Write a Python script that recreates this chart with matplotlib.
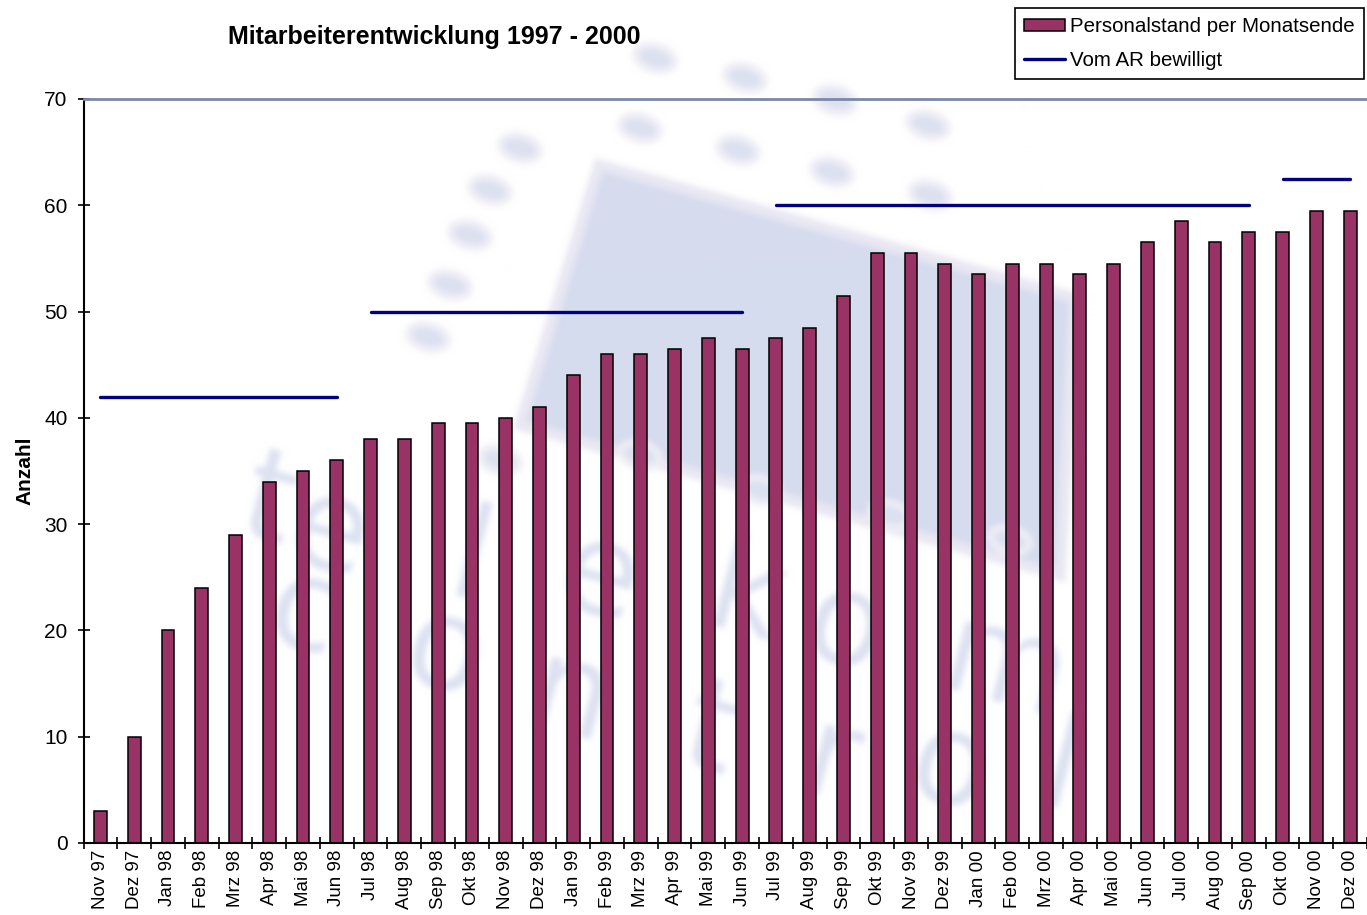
import numpy as np
import matplotlib
matplotlib.use('Agg')
import matplotlib.pyplot as plt
from matplotlib.patches import Polygon, Ellipse

plt.rcParams['font.family'] = ['Liberation Sans', 'DejaVu Sans']

# ---------------- data ----------------
monate = ['Nov 97', 'Dez 97',
          'Jan 98', 'Feb 98', 'Mrz 98', 'Apr 98', 'Mai 98', 'Jun 98',
          'Jul 98', 'Aug 98', 'Sep 98', 'Okt 98', 'Nov 98', 'Dez 98',
          'Jan 99', 'Feb 99', 'Mrz 99', 'Apr 99', 'Mai 99', 'Jun 99',
          'Jul 99', 'Aug 99', 'Sep 99', 'Okt 99', 'Nov 99', 'Dez 99',
          'Jan 00', 'Feb 00', 'Mrz 00', 'Apr 00', 'Mai 00', 'Jun 00',
          'Jul 00', 'Aug 00', 'Sep 00', 'Okt 00', 'Nov 00', 'Dez 00']

personalstand = [3, 10,
                 20, 24, 29, 34, 35, 36,
                 38, 38, 39.5, 39.5, 40, 41,
                 44, 46, 46, 46.5, 47.5, 46.5,
                 47.5, 48.5, 51.5, 55.5, 55.5, 54.5,
                 53.5, 54.5, 54.5, 53.5, 54.5, 56.5,
                 58.5, 56.5, 57.5, 57.5, 59.5, 59.5]

# approved headcount (Aufsichtsrat), one value per period
bewilligt_von = ['Nov 97', 'Jul 98', 'Jul 99', 'Okt 00']
bewilligt_bis = ['Jun 98', 'Jun 99', 'Sep 00', 'Dez 00']
bewilligt_anzahl = [42, 50, 60, 62.5]

BAR_COLOR = '#993366'
LINE_COLOR = '#000080'
W, H = 1367, 915


def box_blur(img, r):
    # separable box filter, run along rows then columns
    k = 2 * r + 1
    for axis in (0, 1):
        padw = [(0, 0)] * img.ndim
        padw[axis] = (r + 1, r)
        c = np.cumsum(np.pad(img, padw, mode='edge'), axis=axis)
        n = img.shape[axis]
        img = (np.take(c, np.arange(k, k + n), axis=axis)
               - np.take(c, np.arange(0, n), axis=axis)) / k
    return img


# ---------------- watermark (background logo), rendered then softened ----------------
wfig = plt.figure(figsize=(W / 100, H / 100), dpi=100)
wax = wfig.add_axes([0, 0, 1, 1])
wax.set_xlim(0, W)
wax.set_ylim(H, 0)
wax.axis('off')

wax.add_patch(Polygon([(599, 165), (1075, 298), (1060, 575), (520, 425)],
                      closed=True, facecolor='#d6dcee', edgecolor='#e9e8f3', lw=8))
pads = [(520, 148), (490, 190), (470, 235), (450, 285), (428, 337),
        (655, 58), (745, 78), (835, 100), (928, 125),
        (640, 128), (738, 150), (832, 172), (930, 195),
        (500, 460), (640, 455), (760, 490), (890, 515), (1010, 540)]
for px, py in pads:
    wax.add_patch(Ellipse((px, py), 40, 24, angle=15, facecolor='#dce1f0',
                          edgecolor='#efeef6', lw=5))

row1 = [('t', 268, 505), ('e', 330, 535), ('l', 470, 565), ('e', 600, 580),
        ('k', 745, 600), ('o', 845, 630), ('m', 1005, 670)]
row2 = [('c', 305, 615), ('o', 445, 655), ('n', 570, 700), ('t', 710, 735),
        ('r', 830, 765), ('o', 950, 770), ('l', 1060, 775)]
for ch, px, py in row1 + row2:
    wax.text(px, py, ch, fontsize=92, color='#dde2f1', ha='center', va='center',
             rotation=-15, family='DejaVu Sans')

wfig.canvas.draw()
wm_img = np.asarray(wfig.canvas.buffer_rgba())[..., :3].astype(float) / 255
plt.close(wfig)
wm_img = np.clip(box_blur(box_blur(wm_img, 3), 3), 0, 1)

fig = plt.figure(figsize=(W / 100, H / 100), dpi=100)
bg = fig.add_axes([0, 0, 1, 1], zorder=0)
bg.imshow(wm_img, extent=(0, W, H, 0), aspect='auto', interpolation='nearest')
bg.set_xlim(0, W)
bg.set_ylim(H, 0)
bg.axis('off')

# ---------------- main chart ----------------
ax = fig.add_axes([83.5 / W, 1 - 843 / H, (W - 83.5) / W, (843 - 99) / H], zorder=1)
ax.set_facecolor('none')

x = np.arange(len(monate))
bars = ax.bar(x, personalstand, width=0.38, color=BAR_COLOR, edgecolor='black',
              linewidth=1.1, zorder=2)

ar_line = None
for von, bis, anz in zip(bewilligt_von, bewilligt_bis, bewilligt_anzahl):
    i0, i1 = monate.index(von), monate.index(bis)
    ar_line, = ax.plot([i0, i1], [anz, anz], color=LINE_COLOR, lw=2.4,
                       solid_capstyle='round', zorder=3)

ax.set_xlim(-0.5, len(monate) - 0.5)
ax.set_ylim(0, 70)
ax.set_yticks(range(0, 71, 10))

ax.set_xticks(x)
ax.set_xticklabels(monate, rotation=90, fontsize=13.5)
ax.set_xticks(np.arange(-0.5, len(monate), 1), minor=True)
ax.tick_params(axis='x', which='major', length=0, pad=5)
ax.tick_params(axis='x', which='minor', direction='inout', length=9, width=1.2)
ax.tick_params(axis='y', direction='inout', length=9, width=1.2, labelsize=15, pad=7)

for s in ('left', 'bottom'):
    ax.spines[s].set_linewidth(1.5)
ax.spines['right'].set_visible(False)
ax.spines['top'].set_color('#7b88a6')
ax.spines['top'].set_linewidth(2)

fig.text(25 / W, 1 - 471 / H, 'Anzahl', rotation=90, fontsize=15, weight='bold',
         ha='center', va='center')
fig.text(434 / W, 1 - 37 / H, 'Mitarbeiterentwicklung 1997 - 2000', fontsize=18,
         weight='bold', ha='center', va='center')

leg = fig.legend([bars, ar_line], ['Personalstand per Monatsende', 'Vom AR bewilligt'],
                 loc='upper right', bbox_to_anchor=(1364 / W, 1 - 8 / H),
                 fontsize=14.8, fancybox=False, framealpha=1, edgecolor='black',
                 handlelength=2.0, handleheight=0.5, handletextpad=0.25, borderpad=0.45,
                 labelspacing=0.72, borderaxespad=0)
leg.get_frame().set_linewidth(1.2)

fig.savefig('out.png', dpi=100)
